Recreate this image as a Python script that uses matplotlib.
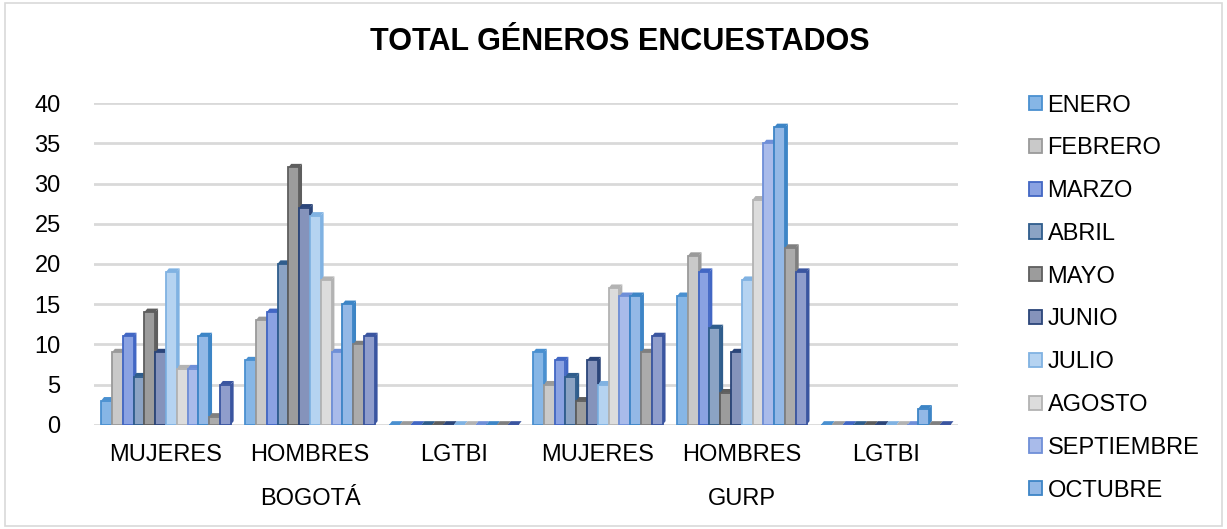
import numpy as np
import matplotlib.pyplot as plt
from matplotlib.patches import Rectangle

plt.rcParams['font.family'] = ['Liberation Sans', 'DejaVu Sans']

# categories and groups
categories = ['MUJERES', 'HOMBRES', 'LGTBI', 'MUJERES', 'HOMBRES', 'LGTBI']
groups = ['BOGOTÁ', 'GURP']
months = ['ENERO', 'FEBRERO', 'MARZO', 'ABRIL', 'MAYO', 'JUNIO', 'JULIO',
          'AGOSTO', 'SEPTIEMBRE', 'OCTUBRE', 'NOVIEMBRE', 'DICIEMBRE']

# values per month, one entry per category
enero      = [3, 8, 0, 9, 16, 0]
febrero    = [9, 13, 0, 5, 21, 0]
marzo      = [11, 14, 0, 8, 19, 0]
abril      = [6, 20, 0, 6, 12, 0]
mayo       = [14, 32, 0, 3, 4, 0]
junio      = [9, 27, 0, 8, 9, 0]
julio      = [19, 26, 0, 5, 18, 0]
agosto     = [7, 18, 0, 17, 28, 0]
septiembre = [7, 9, 0, 16, 35, 0]
octubre    = [11, 15, 0, 16, 37, 2]
noviembre  = [1, 10, 0, 9, 22, 0]
diciembre  = [5, 11, 0, 11, 19, 0]
series = [enero, febrero, marzo, abril, mayo, junio, julio,
          agosto, septiembre, octubre, noviembre, diciembre]

faces = ['#86B6E6', '#C9C9C9', '#8AA2E2', '#8BA3C4', '#9C9C9C', '#8593BB',
         '#B5D3F1', '#DCDCDC', '#A9BBEA', '#93B8E6', '#ABABAB', '#8F9DCC']
edges = ['#4A90D0', '#9A9A9A', '#4267C4', '#2F5D8C', '#5E5E5E', '#2B4579',
         '#80B2E2', '#B3B3B3', '#6F8FD8', '#3D85C6', '#7F7F7F', '#3A55A0']

fig = plt.figure(figsize=(12.27, 5.29), dpi=100)
fig.patches.append(Rectangle((0.004, 0.006), 0.992, 0.988, transform=fig.transFigure,
                             fill=False, edgecolor='#D9D9D9', linewidth=1.2))
ax = fig.add_axes([0.0766, 0.197, 0.704, 0.608])

x = np.arange(len(categories))
w = 0.075
dx, dy = 0.02, 0.45  # pseudo-3D depth
for j, (vals, fc, ec) in enumerate(zip(series, faces, edges)):
    xs = x + (j - 5.5) * w
    ax.bar(xs, vals, width=w, color=fc, edgecolor=ec, linewidth=1.3,
           label=months[j], zorder=3 + j * 0.01)
    for xi, v in zip(xs, vals):
        r = xi + w / 2
        ax.fill([r, r + dx, r + dx, r], [0, dy, v + dy, v], color=ec,
                zorder=2.9 + j * 0.01, linewidth=0)
        ax.fill([xi - w / 2, xi - w / 2 + dx, r + dx, r], [v, v + dy, v + dy, v],
                color=ec, zorder=2.9 + j * 0.01, linewidth=0)

ax.set_xlim(-0.5, len(categories) - 0.5)
ax.set_ylim(0, 40)
ax.set_yticks(np.arange(0, 41, 5))
ax.yaxis.grid(True, color='#D9D9D9', linewidth=2)
ax.set_axisbelow(True)
for s in ax.spines.values():
    s.set_visible(False)
ax.tick_params(axis='both', length=0, labelsize=17)
ax.tick_params(axis='y', pad=24)
ax.set_xticks(x)
ax.set_xticklabels(categories)
ax.tick_params(axis='x', pad=14)

for i, g in enumerate(groups):
    ax.text(1 + 3 * i, -0.23, g, transform=ax.get_xaxis_transform(),
            ha='center', va='center', fontsize=17)

fig.text(0.505, 0.921, 'TOTAL GÉNEROS ENCUESTADOS', ha='center', va='center',
         fontsize=22, fontweight='bold')

handles, labels = ax.get_legend_handles_labels()
ax.legend(handles[:10], labels[:10], loc='upper left', bbox_to_anchor=(1.071, 1.056),
          frameon=False, fontsize=17, handlelength=0.55, handleheight=0.55,
          handletextpad=0.25, labelspacing=0.88, borderaxespad=0)

fig.savefig('out.png', dpi=100)
